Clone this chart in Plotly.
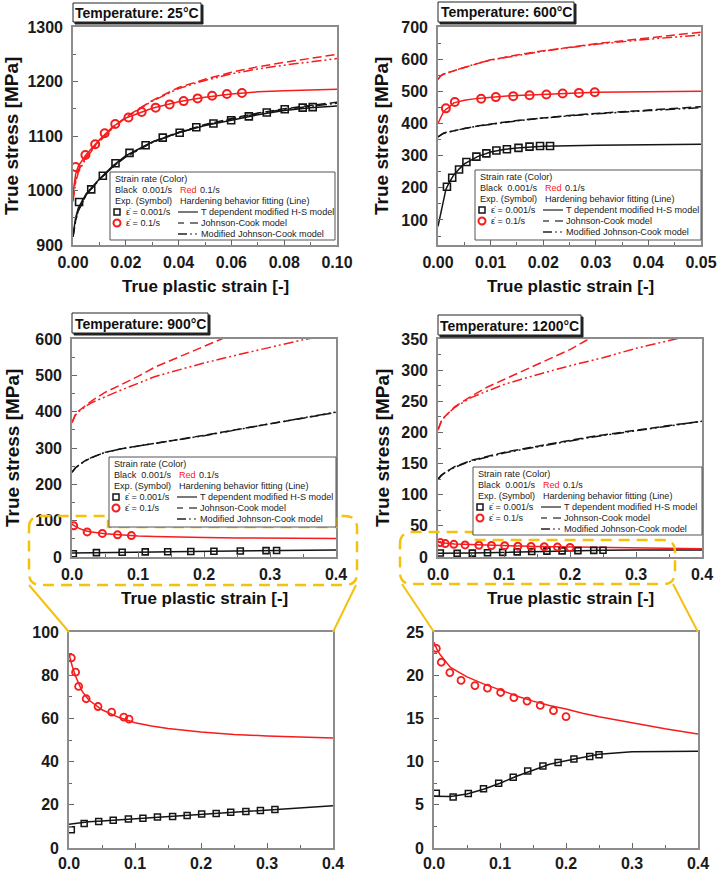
import plotly.graph_objects as go

W, H = 719, 871


def px(x):
    return x / W


def py(y):
    return 1 - y / H


# ---------------- DATA ----------------
# 25 C
T25_X = [0, 0.001, 0.002, 0.005, 0.01, 0.015, 0.02, 0.03, 0.04, 0.05, 0.06, 0.07, 0.08, 0.09, 0.1]
T25_HS_SLOW = [918, 950, 968, 994, 1021, 1045, 1064, 1089, 1106, 1119, 1129, 1139, 1147, 1152, 1155]
T25_JC_SLOW = [915, 945, 963, 992, 1020, 1043, 1062, 1089, 1107, 1121, 1132, 1142, 1150, 1156, 1162]
T25_MJC_SLOW = [915, 945, 963, 992, 1020, 1043, 1062, 1088, 1106, 1120, 1131, 1141, 1149, 1155, 1160]
T25_HS_FAST = [995, 1030, 1045, 1066, 1093, 1117, 1133, 1151, 1163, 1171, 1177, 1181, 1183, 1185, 1186]
T25_JC_FAST = [985, 1020, 1037, 1062, 1092, 1115, 1135, 1165, 1189, 1204, 1217, 1227, 1235, 1243, 1250]
T25_MJC_FAST = [980, 1015, 1033, 1060, 1090, 1114, 1134, 1164, 1187, 1202, 1214, 1223, 1230, 1236, 1242]
T25_EXP_SLOW_X = [0.0023, 0.0069, 0.0113, 0.0161, 0.0214, 0.0275, 0.034, 0.0404, 0.0467, 0.0532, 0.0599, 0.0666, 0.0734, 0.0802, 0.087, 0.0908]
T25_EXP_SLOW_Y = [979, 1002, 1027, 1050, 1069, 1083, 1097, 1106, 1116, 1123, 1129, 1136, 1143, 1149, 1152, 1153]
T25_EXP_FAST_X = [0.001, 0.0047, 0.0084, 0.012, 0.016, 0.021, 0.026, 0.0313, 0.0366, 0.0419, 0.0472, 0.0527, 0.0583, 0.064]
T25_EXP_FAST_Y = [1043, 1065, 1085, 1105, 1122, 1134, 1144, 1152, 1158, 1164, 1169, 1174, 1177, 1179]

# 600 C
T600_X = [0, 0.0005, 0.001, 0.0015, 0.002, 0.003, 0.004, 0.005, 0.0075, 0.01, 0.0125, 0.015, 0.02, 0.025, 0.03, 0.04, 0.05]
T600_HS_SLOW = [80, 120, 160, 195, 212, 240, 258, 274, 297, 311, 319, 324, 329, 331, 332, 334, 335]
T600_JC_SLOW = [358, 365, 369, 372, 374, 378, 381, 384, 392, 399, 404, 409, 418, 425, 431, 442, 452]
T600_MJC_SLOW = [358, 365, 369, 372, 374, 378, 381, 384, 392, 398, 403, 408, 417, 424, 430, 440, 449]
T600_HS_FAST = [400, 420, 435, 444, 449, 464, 469, 472, 478, 482, 485, 487, 491, 494, 497, 499, 500]
T600_JC_FAST = [537, 548, 553, 556, 559, 565, 569, 574, 587, 598, 605, 613, 626, 638, 648, 666, 684]
T600_MJC_FAST = [537, 548, 553, 556, 559, 565, 569, 574, 587, 597, 604, 612, 625, 636, 646, 662, 675]
T600_EXP_SLOW_X = [0.0017, 0.0027, 0.004, 0.0054, 0.0073, 0.0092, 0.0111, 0.0131, 0.0153, 0.0174, 0.0194, 0.0213]
T600_EXP_SLOW_Y = [203, 231, 257, 280, 297, 307, 316, 320, 324, 328, 330, 330]
T600_EXP_FAST_X = [0.0015, 0.0032, 0.0082, 0.011, 0.0143, 0.0174, 0.0206, 0.0237, 0.0268, 0.0298]
T600_EXP_FAST_Y = [447, 467, 477, 482, 485, 488, 490, 493, 495, 497]

# 900 C
T900_X = [0, 0.005, 0.01, 0.02, 0.03, 0.05, 0.075, 0.1, 0.125, 0.15, 0.2, 0.25, 0.3, 0.35, 0.4]
T900_HS_SLOW = [11.0, 11.2, 11.4, 11.8, 12.1, 12.5, 13.0, 13.6, 14.1, 14.6, 15.6, 16.6, 17.6, 18.6, 19.6]
T900_JC_SLOW = [233, 245, 252, 265, 274, 288, 298, 306, 313, 320, 335, 351, 366, 382, 398]
T900_MJC_SLOW = [233, 245, 252, 265, 274, 288, 298, 306, 313, 320, 334, 350, 366, 383, 399]
T900_HS_FAST = [90, 84, 79.5, 72.5, 68.5, 64, 60.5, 58, 56.5, 55.3, 53.7, 52.6, 51.9, 51.3, 50.9]
T900_JC_FAST = [370, 392, 402, 417, 430, 453, 475, 497, 522, 541, 578, 618, 652, 686, 718]
T900_MJC_FAST = [370, 390, 400, 414, 425, 441, 460, 478, 496, 509, 534, 556, 576, 598, 615]
T900_EXP_SLOW_X = [0.0035, 0.023, 0.045, 0.067, 0.09, 0.112, 0.134, 0.157, 0.179, 0.201, 0.223, 0.245, 0.268, 0.29, 0.312]
T900_EXP_SLOW_Y = [8.5, 11.4, 12.3, 12.9, 13.4, 13.8, 14.3, 14.6, 15.1, 15.7, 16.0, 16.5, 16.9, 17.4, 17.8]
T900_EXP_FAST_X = [0.0035, 0.010, 0.0146, 0.026, 0.044, 0.0646, 0.083, 0.091]
T900_EXP_FAST_Y = [88.0, 81.4, 74.8, 69.1, 65.5, 62.9, 60.6, 59.7]
T900_MID_SLOW_X = [0.002, 0.037, 0.076, 0.111, 0.145, 0.18, 0.215, 0.255, 0.294, 0.31]
T900_MID_SLOW_Y = [9, 12, 13, 14, 14.5, 15, 16, 16.5, 17.5, 18]
T900_MID_FAST_X = [0.0025, 0.023, 0.046, 0.069, 0.09]
T900_MID_FAST_Y = [86, 69, 65, 61, 59]

# 1200 C
T1200_X = [0, 0.005, 0.01, 0.025, 0.05, 0.075, 0.1, 0.125, 0.15, 0.175, 0.2, 0.225, 0.25, 0.3, 0.35, 0.4]
T1200_HS_SLOW = [6.0, 5.98, 5.96, 5.95, 6.25, 6.8, 7.5, 8.3, 9.0, 9.7, 10.1, 10.5, 10.85, 11.15, 11.2, 11.2]
T1200_JC_SLOW = [125, 131, 135, 145, 155, 162, 168, 173, 178, 183, 187, 192, 196, 204, 211, 218]
T1200_MJC_SLOW = [125, 131, 135, 144, 154, 161, 167, 172, 177, 182, 186, 191, 195, 203, 211, 218]
T1200_HS_FAST = [23.8, 22.9, 22.3, 20.9, 19.8, 19.0, 18.3, 17.6, 17.0, 16.5, 16.1, 15.6, 15.2, 14.5, 13.8, 13.2]
T1200_JC_FAST = [204, 218, 225, 241, 258, 273, 285, 297, 309, 321, 333, 348, 360, 383, 404, 424]
T1200_MJC_FAST = [204, 218, 225, 240, 256, 267, 277, 285, 293, 300, 307, 313, 320, 335, 348, 360]
T1200_EXP_SLOW_X = [0.0035, 0.029, 0.052, 0.075, 0.098, 0.12, 0.142, 0.165, 0.188, 0.212, 0.236, 0.25]
T1200_EXP_SLOW_Y = [6.35, 5.9, 6.3, 6.85, 7.5, 8.2, 8.9, 9.5, 9.9, 10.3, 10.6, 10.8]
T1200_EXP_FAST_X = [0.0035, 0.011, 0.024, 0.041, 0.062, 0.081, 0.101, 0.121, 0.141, 0.161, 0.181, 0.2]
T1200_EXP_FAST_Y = [23.1, 21.5, 20.3, 19.4, 18.8, 18.5, 18.0, 17.4, 17.0, 16.5, 15.9, 15.2]

TITLES = ["Temperature: 25°C", "Temperature: 600°C", "Temperature: 900°C", "Temperature: 1200°C"]

# ---------------- STYLE ----------------
RED = "#f51d1d"
BLK = "#151515"
YEL = "#F4C20D"
FONT = "Liberation Sans, Arial, sans-serif"
DASH_JC = "9px,4px"
DASH_MJC = "10px,3px,2px,3px,2px,3px"
LEG_FS = 9.1

fig = go.Figure()


def line(ax, x, y, color, dash="solid", width=1.5):
    fig.add_trace(go.Scatter(x=x, y=y, mode="lines", xaxis="x" + ax, yaxis="y" + ax,
                             line=dict(color=color, width=width, dash=dash), showlegend=False,
                             hoverinfo="skip"))


def marks(ax, x, y, color, symbol, size, lw):
    fig.add_trace(go.Scatter(x=x, y=y, mode="markers", xaxis="x" + ax, yaxis="y" + ax,
                             marker=dict(symbol=symbol, size=size, color=color,
                                         line=dict(color=color, width=lw)),
                             showlegend=False, hoverinfo="skip"))


def model_set(ax, X, hs_s, jc_s, mjc_s, hs_f, jc_f, mjc_f):
    line(ax, X, mjc_s, BLK, DASH_MJC)
    line(ax, X, jc_s, BLK, DASH_JC)
    line(ax, X, hs_s, BLK)
    line(ax, X, mjc_f, RED, DASH_MJC)
    line(ax, X, jc_f, RED, DASH_JC)
    line(ax, X, hs_f, RED)


model_set("", T25_X, T25_HS_SLOW, T25_JC_SLOW, T25_MJC_SLOW, T25_HS_FAST, T25_JC_FAST, T25_MJC_FAST)
marks("", T25_EXP_SLOW_X, T25_EXP_SLOW_Y, BLK, "square-open", 7, 1.6)
marks("", T25_EXP_FAST_X, T25_EXP_FAST_Y, RED, "circle-open", 8, 2)

model_set("2", T600_X, T600_HS_SLOW, T600_JC_SLOW, T600_MJC_SLOW, T600_HS_FAST, T600_JC_FAST, T600_MJC_FAST)
marks("2", T600_EXP_SLOW_X, T600_EXP_SLOW_Y, BLK, "square-open", 7, 1.6)
marks("2", T600_EXP_FAST_X, T600_EXP_FAST_Y, RED, "circle-open", 8, 2)

model_set("3", T900_X, T900_HS_SLOW, T900_JC_SLOW, T900_MJC_SLOW, T900_HS_FAST, T900_JC_FAST, T900_MJC_FAST)
marks("3", T900_MID_SLOW_X, T900_MID_SLOW_Y, BLK, "square-open", 6, 1.6)
marks("3", T900_MID_FAST_X, T900_MID_FAST_Y, RED, "circle-open", 7, 2)

model_set("4", T1200_X, T1200_HS_SLOW, T1200_JC_SLOW, T1200_MJC_SLOW, T1200_HS_FAST, T1200_JC_FAST, T1200_MJC_FAST)
marks("4", T1200_EXP_SLOW_X, T1200_EXP_SLOW_Y, BLK, "square-open", 6, 1.6)
marks("4", T1200_EXP_FAST_X, T1200_EXP_FAST_Y, RED, "circle-open", 7, 2)

line("5", T900_X, T900_HS_SLOW, BLK)
line("5", T900_X, T900_HS_FAST, RED)
marks("5", T900_EXP_SLOW_X, T900_EXP_SLOW_Y, BLK, "square-open", 6, 1.5)
marks("5", T900_EXP_FAST_X, T900_EXP_FAST_Y, RED, "circle-open", 7, 1.8)

line("6", T1200_X, T1200_HS_SLOW, BLK)
line("6", T1200_X, T1200_HS_FAST, RED)
marks("6", T1200_EXP_SLOW_X, T1200_EXP_SLOW_Y, BLK, "square-open", 6, 1.5)
marks("6", T1200_EXP_FAST_X, T1200_EXP_FAST_Y, RED, "circle-open", 7, 1.8)

# ---------------- AXES ----------------
BOXES = {  # page-pixel boxes: x0, x1, ytop, ybottom
    "": (73, 337, 27, 245),
    "2": (438, 701, 27, 245),
    "3": (72, 336, 339, 557),
    "4": (438, 702, 339, 557),
    "5": (69, 333, 632, 848),
    "6": (434, 698, 632, 848),
}
AX = {  # xrange, xdtick, xminor, xfmt, yrange, ydtick, yminor
    "": ([0, 0.1], 0.02, 0.01, ".2f", [900, 1300], 100, 50),
    "2": ([0, 0.05], 0.01, 0.005, ".2f", [22, 700], 100, 50),
    "3": ([0, 0.4], 0.1, 0.05, ".1f", [0, 600], 100, 50),
    "4": ([0, 0.4], 0.1, 0.05, ".1f", [0, 350], 50, 25),
    "5": ([0, 0.4], 0.1, 0.05, ".1f", [0, 100], 20, 10),
    "6": ([0, 0.4], 0.1, 0.05, ".1f", [0, 25], 5, 2.5),
}
tickfont = dict(family=FONT, size=16, color="#1a1a1a", weight="bold")
common = dict(showline=True, mirror=True, linecolor="#8c8c8c", linewidth=1.6, showgrid=False,
              zeroline=False, ticks="inside", ticklen=5, tickwidth=1, tickcolor="#666",
              tickfont=tickfont, automargin=False)
layout_axes = {}
for k, (x0, x1, yt, yb) in BOXES.items():
    xr, xd, xm, xf, yr, yd, ym = AX[k]
    layout_axes["xaxis" + k] = dict(domain=[px(x0), px(x1)], anchor="y" + k, range=xr,
                                    tick0=0, dtick=xd, tickformat=xf,
                                    minor=dict(ticks="inside", ticklen=3, dtick=xm, tick0=0,
                                               tickcolor="#666", showgrid=False),
                                    ticklabelstandoff=0 if k in ("5", "6") else 2, **common)
    layout_axes["yaxis" + k] = dict(domain=[py(yb), py(yt)], anchor="x" + k, range=yr,
                                    tick0=0, dtick=yd,
                                    minor=dict(ticks="inside", ticklen=3, dtick=ym, tick0=0,
                                               tickcolor="#666", showgrid=False),
                                    ticklabelstandoff=5, **common)

shapes = []
annotations = []


def pline(x0, y0, x1, y1, color, width=1.2, dash="solid"):
    shapes.append(dict(type="line", xref="paper", yref="paper", x0=px(x0), y0=py(y0), x1=px(x1), y1=py(y1),
                       line=dict(color=color, width=width, dash=dash), layer="above"))


def prect(x0, y0, x1, y1, fill, color, width=1):
    shapes.append(dict(type="rect", xref="paper", yref="paper", x0=px(x0), y0=py(y0), x1=px(x1), y1=py(y1),
                       fillcolor=fill, line=dict(color=color, width=width), layer="above"))


def ptext(x, y, s, size=LEG_FS, color="#222", bold=False, anchor="left", angle=0):
    annotations.append(dict(xref="paper", yref="paper", x=px(x), y=py(y), text=s, showarrow=False,
                            xanchor=anchor, yanchor="middle", textangle=angle,
                            font=dict(family=FONT, size=size, color=color, weight="bold" if bold else "normal")))


def to_path(cmds):
    out = []
    for c in cmds:
        if isinstance(c, str):
            out.append(c)
        else:
            out.append(f"{px(c[0]):.5f},{py(c[1]):.5f}")
    return " ".join(out)


# ---------------- YELLOW ZOOM MARKERS ----------------
left_path = to_path(["M", (29, 528), "Q", (29, 516), (41, 516), "L", (108, 516), "L", (108, 527),
                     "L", (336, 527), "L", (336, 516), "L", (345, 516), "Q", (357, 516), (357, 528),
                     "L", (357, 573), "Q", (357, 585), (345, 585), "L", (41, 585), "Q", (29, 585), (29, 573), "Z"])
right_path = to_path(["M", (400, 544), "Q", (400, 532), (412, 532), "L", (473, 532), "L", (473, 540),
                      "L", (663, 540), "Q", (675, 540), (675, 552), "L", (675, 572), "Q", (675, 584), (663, 584),
                      "L", (412, 584), "Q", (400, 584), (400, 572), "Z"])
for p in (left_path, right_path):
    shapes.append(dict(type="path", xref="paper", yref="paper", path=p,
                       line=dict(color=YEL, width=2.5, dash="11px,7px"), layer="above"))
pline(29, 585, 69, 632, YEL, 2)
pline(356, 585, 333, 632, YEL, 2)
pline(402, 584, 434, 632, YEL, 2)
pline(673, 584, 698, 632, YEL, 2)


# ---------------- LEGEND BOXES ----------------
def legend_box(bx, by, bw, bh=68):
    prect(bx, by, bx + bw, by + bh, "white", "#555", 1)
    r = [7, 18, 29, 40, 51, 62]
    ptext(bx + 3, by + r[0], "Strain rate (Color)")
    ptext(bx + 3, by + r[1], "Black  0.001/s")
    ptext(bx + 68, by + r[1], "Red", color="#ff2020")
    ptext(bx + 88, by + r[1], "0.1/s")
    ptext(bx + 3, by + r[2], "Exp. (Symbol)")
    ptext(bx + 68, by + r[2], "Hardening behavior fitting (Line)")
    prect(bx + 4, by + r[3] - 3, bx + 10, by + r[3] + 3, "rgba(0,0,0,0)", BLK, 1.5)
    shapes.append(dict(type="circle", xref="paper", yref="paper", x0=px(bx + 3.5), x1=px(bx + 10.5),
                       y0=py(by + r[4] - 3.5), y1=py(by + r[4] + 3.5), line=dict(color=RED, width=2),
                       layer="above"))
    ptext(bx + 14, by + r[3], "ε̇ = 0.001/s")
    ptext(bx + 14, by + r[4], "ε̇ = 0.1/s")
    pline(bx + 68, by + r[3], bx + 88, by + r[3], "#222", 1.2)
    pline(bx + 68, by + r[4], bx + 74, by + r[4], "#222", 1.2)
    pline(bx + 80, by + r[4], bx + 88, by + r[4], "#222", 1.2)
    pline(bx + 68, by + r[5], bx + 77, by + r[5], "#222", 1.5)
    pline(bx + 80, by + r[5], bx + 82, by + r[5], "#222", 1.2)
    pline(bx + 85, by + r[5], bx + 87, by + r[5], "#222", 1.2)
    ptext(bx + 89, by + r[3], "T dependent modified H-S model")
    ptext(bx + 89, by + r[4], "Johnson-Cook model")
    ptext(bx + 89, by + r[5], "Modified Johnson-Cook model")


legend_box(110, 172, 225)
legend_box(475, 170, 226, 70)
legend_box(109, 457, 227, 70)
legend_box(473, 467, 229, 68)

# ---------------- TITLE BOXES ----------------
for (x0, y0, x1, y1), t in zip([(73, 3, 201, 22), (438, 2, 574, 22), (72, 313, 208, 333), (438, 315, 581, 335)], TITLES):
    prect(x0 + 2, y0 + 2, x1 + 2, y1 + 2, "#222", "#222", 1)
    prect(x0, y0, x1, y1, "white", "#222", 1)
    ptext((x0 + x1) / 2, (y0 + y1) / 2 + 0.5, t, size=14, color="#111", bold=True, anchor="center")

# ---------------- AXIS TITLES ----------------
for cx, cy in [(205, 287), (570, 287), (204, 598), (570, 598)]:
    ptext(cx, cy, "True plastic strain [-]", size=17, color="#111", bold=True, anchor="center")
for cx, cy in [(12, 136), (382, 136), (12, 448), (382, 448)]:
    ptext(cx, cy, "True stress [MPa]", size=19, color="#111", bold=True, anchor="center", angle=-90)

fig.update_layout(width=W, height=H, margin=dict(l=0, r=0, t=0, b=0, autoexpand=False),
                  paper_bgcolor="white", plot_bgcolor="white", showlegend=False,
                  shapes=shapes, annotations=annotations, **layout_axes)

# remove the default 8px page margin so the figure fills the window exactly; hide the mode bar
fig.write_html("out.html", config={"displayModeBar": False},
               post_script="document.body.style.margin='0';")
